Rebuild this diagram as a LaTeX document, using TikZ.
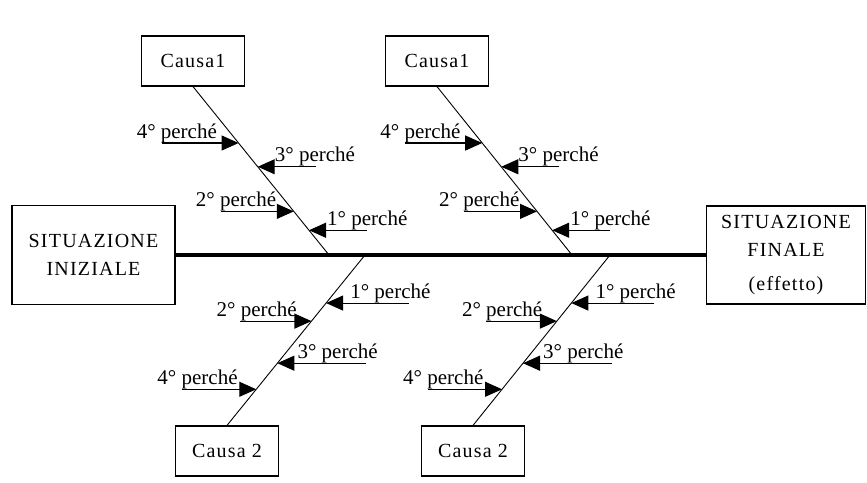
\documentclass[tikz,border=0pt]{standalone}
\usepackage{fontspec}
\setmainfont{Liberation Serif}
\usetikzlibrary{arrows.meta,calc}

\newcommand\perche[4]{%
  \draw[why] ($(#1)+(#2,0)$) coordinate (#1t) -- (#1);
  \node[lbl,anchor=base west] (#1l) at ($(#1)+(#3,-5)$) {#4° perché};}

\begin{document}
\begin{tikzpicture}[x=1pt,y=-1pt,
    box/.style={draw,line width=1.2pt,inner sep=0pt,align=center,
      font=\fontsize{20}{28}\selectfont\addfontfeature{LetterSpace=6}},
    cause/.style={box,minimum width=103pt,minimum height=50pt},
    bone/.style={line width=0.9pt},
    why/.style={-{Triangle[length=17pt,width=15pt]},line width=1.1pt},
    lbl/.style={inner sep=0pt,font=\fontsize{21}{24}\selectfont}]
  \useasboundingbox (0,0) rectangle (867,482);

  \node[box,minimum width=163pt,minimum height=99pt] (ini) at (93.5,255) {SITUAZIONE\\INIZIALE};
  \node[box,minimum width=159pt,minimum height=98pt] (fin) at (786,255)
    {SITUAZIONE\\FINALE\\[6pt](effetto)};
  \draw[line width=4pt] (ini.east) -- (fin.west);

  \node[cause] (c1a) at (193,61) {Causa1};
  \node[cause] (c1b) at (437,61) {Causa1};
  \node[cause] (c2a) at (227,451) {Causa 2};
  \node[cause] (c2b) at (473,451) {Causa 2};

  \coordinate (j1) at (329,255);
  \coordinate (j2) at (572,255);
  \coordinate (j3) at (365,255);
  \coordinate (j4) at (610,255);

  \foreach \b/\c/\j in {tl/c1a/j1,tr/c1b/j2}
    \draw[bone] (\c.south) -- (\j)
      coordinate[pos=.335] (\b4) coordinate[pos=.476] (\b3)
      coordinate[pos=.741] (\b2) coordinate[pos=.853] (\b1);
  \foreach \b/\c/\j in {bl/c2a/j3,br/c2b/j4}
    \draw[bone] (\j) -- (\c.north)
      coordinate[pos=.282] (\b1) coordinate[pos=.388] (\b2)
      coordinate[pos=.635] (\b3) coordinate[pos=.788] (\b4);

  \foreach \b in {tl,tr}{
    \perche{\b4}{-77}{-102}{4}
    \perche{\b3}{58}{17}{3}
    \perche{\b2}{-73}{-98}{2}
    \perche{\b1}{58}{18}{1}
  }
  \foreach \b in {bl,br}{
    \perche{\b1}{83}{24}{1}
    \perche{\b2}{-71}{-95}{2}
    \perche{\b3}{89}{20}{3}
    \perche{\b4}{-74}{-99}{4}
  }
\end{tikzpicture}
\end{document}
